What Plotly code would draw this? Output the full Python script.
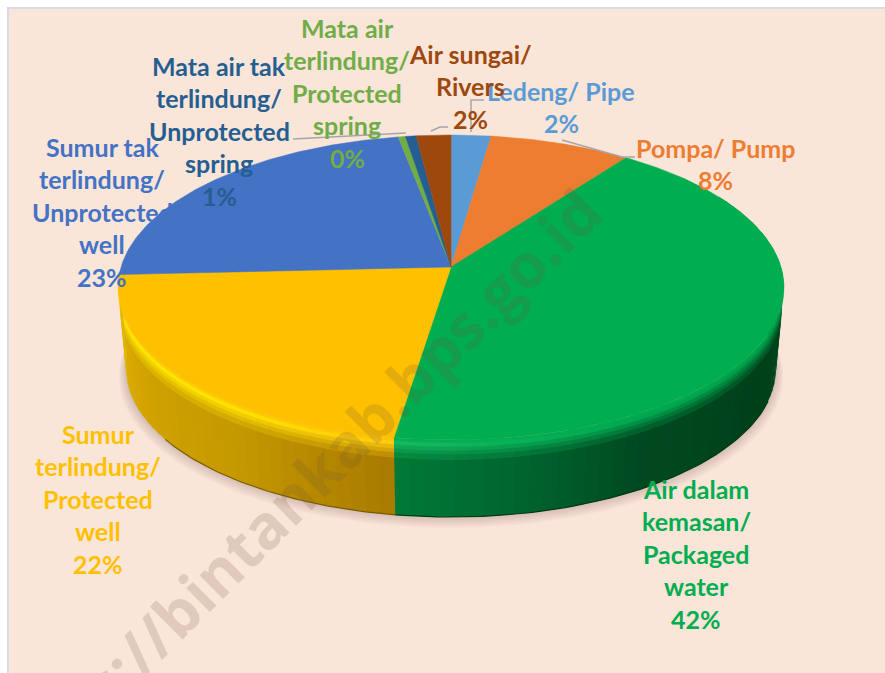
import numpy as np
import plotly.graph_objects as go

# ---- data ----
categories = ["Ledeng/ Pipe", "Pompa/ Pump", "Air dalam kemasan/ Packaged water",
              "Sumur terlindung/ Protected well", "Sumur tak terlindung/ Unprotected well",
              "Mata air terlindung/ Protected spring",
              "Mata air tak terlindung/ Unprotected spring", "Air sungai/ Rivers"]
values = [2.2, 7.8, 42.4, 21.8, 22.9, 0.4, 0.6, 1.9]
percent_labels = ["2%", "8%", "42%", "22%", "23%", "0%", "1%", "2%"]
colors = ["#5B9BD5", "#ED7D31", "#00AD4F", "#FFC000", "#4472C4", "#70AD47", "#255E91", "#9E480E"]

W, H = 885, 673
PANEL = "#FAE5D9"
CX = 451
K = -0.134
R_TOP, A_TOP, B_TOP = 330, 267, 149.7
R_BOT, A_BOT, B_BOT = 322, 349, 145.5


def project(theta_deg, lower=0.0):
    """Perspective projection of a rim point; lower=0 top face, 1 bottom edge."""
    th = np.radians(theta_deg)
    u, v = np.sin(th), -np.cos(th)
    d = 1 + K * v
    r = R_TOP + (R_BOT - R_TOP) * lower
    a = A_TOP + (A_BOT - A_TOP) * lower
    b = B_TOP + (B_BOT - B_TOP) * lower
    return CX + r * u / d, a + b * v / d


def hex2rgb(h):
    return np.array([int(h[i:i + 2], 16) for i in (1, 3, 5)], float)


def css(c):
    return "rgb(%d,%d,%d)" % tuple(np.clip(np.round(c), 0, 255))


def stops(theta, table):
    ts = [t for t, _ in table]
    rgb = np.array([hex2rgb(c) for _, c in table])
    return np.array([np.interp(theta, ts, rgb[:, i]) for i in range(3)])


def poly(fig, x, y, color):
    fig.add_trace(go.Scatter(x=list(x) + [x[0]], y=list(y) + [y[0]], mode="lines", fill="toself",
                             fillcolor=color, line=dict(width=0),
                             hoverinfo="skip", showlegend=False))


edges = np.concatenate([[0], np.cumsum(values)]) / sum(values) * 360.0

wall_tables = {
    2: [(60, "#004A1E"), (120, "#00401A"), (150, "#004A20"), (170, "#006530"), (edges[3], "#007A36")],
    3: [(edges[3], "#A87A00"), (215, "#C49800"), (245, "#D4A500"), (edges[4], "#E5B800")],
}
rim_tables = {
    2: [(60, "#004A20"), (90, "#00803C"), (120, "#009A48"), (150, "#00A850"), (edges[3], "#14B860")],
    3: [(edges[3], "#FFCB10"), (215, "#FFE000"), (245, "#FFE800"), (edges[4], "#FFDC00")],
}

fig = go.Figure()

# soft shadow under the pie
th_all = np.linspace(0, 360, 181)
for i in range(9):
    grow = 1 + (9 - i) * 0.0025
    sx, sy = project(th_all, 1.0)
    sx = CX + (sx - CX) * grow
    sy = 349 + (sy - 349) * grow + (9 - i) * 0.8
    fig.add_trace(go.Scatter(x=sx, y=sy, mode="lines", fill="toself", fillcolor="rgba(120,85,65,0.028)",
                             line=dict(width=0), hoverinfo="skip", showlegend=False))

# side wall of the two front slices
T_STOPS = [0.0, 0.04, 0.09, 0.14, 0.19, 0.26, 1.0]
for idx, start, end, n in [(2, 60.0, edges[3], 56), (3, edges[3], edges[4], 34)]:
    ang = np.linspace(start, end, n + 1)
    for s, (a0, a1) in enumerate(zip(ang[:-1], ang[1:])):
        mid = (a0 + a1) / 2
        wall = stops(mid, wall_tables[idx])
        rim = stops(mid, rim_tables[idx])
        base = hex2rgb(colors[idx])
        cols = [(base * 2 + rim) / 3, rim, (rim * 3 + wall) / 4, (rim + wall) / 2, (rim + wall * 3) / 4, wall]
        a1x = a1 + (0.6 if s < n - 1 or idx == 2 else 0.0)
        for j, c in enumerate(cols):
            bot = T_STOPS[j + 1] + (0.012 if j < len(cols) - 1 else 0.0)
            x0, y0 = project(a0, T_STOPS[j])
            x1, y1 = project(a1x, T_STOPS[j])
            x2, y2 = project(a1x, bot)
            x3, y3 = project(a0, bot)
            poly(fig, [x0, x1, x2, x3], [y0, y1, y2, y3], css(c))

# darker line along the foot of the wall
for start, end, col in [(110.0, edges[3], "#003A16"), (edges[3], 235.0, "#7A5C00")]:
    th = np.linspace(start, end, 60)
    fx, fy = project(th, 1.0)
    fig.add_trace(go.Scatter(x=fx, y=fy, mode="lines", line=dict(color=col, width=1.2),
                             hoverinfo="skip", showlegend=False))

# top face
for i, c in enumerate(colors):
    th = np.linspace(edges[i], edges[i + 1], max(4, int((edges[i + 1] - edges[i]) * 1.5)))
    px, py = project(th)
    fig.add_trace(go.Scatter(x=[CX] + list(px) + [CX], y=[A_TOP] + list(py) + [A_TOP],
                             mode="lines", fill="toself", fillcolor=c, line=dict(color=c, width=0.5),
                             name=categories[i], hoverinfo="name", showlegend=False))

# leader lines
leaders = [
    ([471, 471, 484], [132, 100, 100]),
    ([562, 622, 635], [140, 157, 157]),
    ([431, 440, 448], [131, 127, 127]),
    ([293, 406], [139, 133]),
]
for lx, ly in leaders:
    fig.add_trace(go.Scatter(x=lx, y=ly, mode="lines", line=dict(color="#A6A6A6", width=1.5),
                             hoverinfo="skip", showlegend=False))

anns = [dict(x=294, y=494, xref="x", yref="y", text="https://bintankab.bps.go.id", textangle=-45,
             showarrow=False, xanchor="center", yanchor="middle",
             font=dict(family="Open Sans", size=61, color="rgba(110,85,60,0.19)", weight="bold"))]

label_lines = [
    (["Ledeng/ Pipe"], 561, 91),
    (["Pompa/ Pump"], 715, 148),
    (["Air dalam", "kemasan/", "Packaged", "water"], 696, 489),
    (["Sumur", "terlindung/", "Protected", "well"], 98, 434),
    (["Sumur tak", "terlindung/", "Unprotected", "well"], 102, 147),
    (["Mata air", "terlindung/", "Protected", "spring"], 347, 28),
    (["Mata air tak", "terlindung/", "Unprotected", "spring"], 219, 66),
    (["Air sungai/", "Rivers"], 470, 54),
]
for i, (lines, lx, ly) in enumerate(label_lines):
    for k, t in enumerate(lines + [percent_labels[i]]):
        anns.append(dict(x=lx, y=ly + k * 32.4, xref="x", yref="y", text=t, showarrow=False,
                         xanchor="center", yanchor="middle",
                         font=dict(family="Lato", size=25, color=colors[i], weight="bold")))

fig.update_layout(
    width=W, height=H, margin=dict(l=0, r=0, t=0, b=0), autosize=False,
    paper_bgcolor="white", plot_bgcolor="white", showlegend=False,
    xaxis=dict(range=[0, W], visible=False, fixedrange=True),
    yaxis=dict(range=[H, 0], visible=False, fixedrange=True),
    shapes=[dict(type="rect", xref="x", yref="y", x0=8, y0=8, x1=W + 5, y1=H + 5, layer="below",
                 fillcolor=PANEL, line=dict(color="#D8DAE6", width=2))],
    annotations=anns,
)
fig.write_html("out.html", config={"displayModeBar": False},
               post_script="document.body.style.margin='0';document.body.style.overflow='hidden';")
